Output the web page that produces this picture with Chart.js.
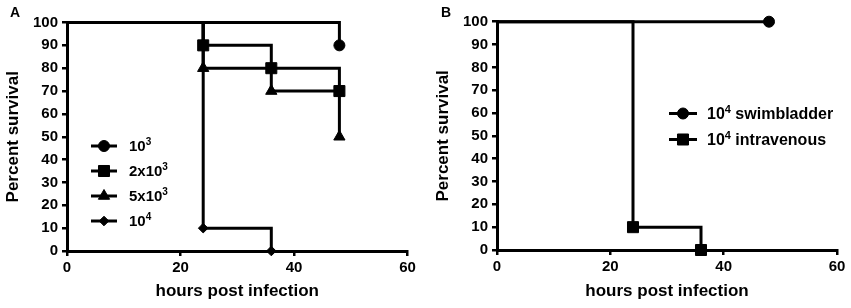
<!DOCTYPE html>
<html>
<head>
<meta charset="utf-8">
<script src="https://cdn.jsdelivr.net/npm/chart.js@4.4.0/dist/chart.umd.min.js"></script>
<style>
    html, body { margin: 0; padding: 0; background: #fff; }
    body { width: 851px; height: 308px; position: relative; overflow: hidden; }
    .panel { position: absolute; top: 0; height: 308px; }
    #panelA { left: 0; width: 425px; }
    #panelB { left: 430px; width: 421px; }
</style>
</head>
<body>
<div class="panel" id="panelA"><canvas id="chartA"></canvas></div>
<div class="panel" id="panelB"><canvas id="chartB"></canvas></div>
<script>
// survival curves: hours of each event and the survival after it
const timesA_1e3 = [0, 48];
const survA_1e3 = [100, 90];
const timesA_2e3 = [0, 24, 36, 48];
const survA_2e3 = [100, 90, 80, 70];
const timesA_5e3 = [0, 24, 36, 48];
const survA_5e3 = [100, 80, 70, 50];
const timesA_1e4 = [0, 24, 36];
const survA_1e4 = [100, 10, 0];

const timesB_swim = [0, 48];
const survB_swim = [100, 100];
const timesB_iv = [0, 24, 36];
const survB_iv = [100, 10, 0];

// legend text: [base, superscript, rest]
const labelsA = [["10", "3", ""], ["2x10", "3", ""], ["5x10", "3", ""], ["10", "4", ""]];
const labelsB = [["10", "4", " swimbladder"], ["10", "4", " intravenous"]];

// axes
const xMin = 0, xMax = 60, xStep = 20;
const yMin = 0, yMax = 100, yStep = 10;
const xTitle = "hours post infection";
const yTitle = "Percent survival";

const FONT = '"Liberation Sans", Arial, sans-serif';
Chart.defaults.font.family = FONT;

function toPoints(t, s) {
    return t.map((x, i) => ({x: x, y: s[i]}));
}

function makeDataset(label, t, s, style, r) {
    return {
        label: label,
        data: toPoints(t, s),
        stepped: true,
        fill: false,
        clip: false,
        borderColor: '#000',
        backgroundColor: '#000',
        borderWidth: 3,
        pointStyle: style,
        pointRadius: ctx => ctx.dataIndex === 0 ? 0 : r, // no marker at t=0
        pointBackgroundColor: '#000',
        pointBorderColor: '#000',
        pointBorderWidth: 1,
        markerRadius: r
    };
}

// draws the legend with superscripts and the panel letter
const panelLegend = {
    id: 'panelLegend',
    afterDraw(chart, args, opts) {
        const ctx = chart.ctx;
        ctx.save();
        ctx.fillStyle = '#000';
        ctx.strokeStyle = '#000';
        ctx.textAlign = 'left';
        ctx.textBaseline = 'alphabetic';
        ctx.font = 'bold 14px ' + FONT;
        ctx.fillText(opts.letter, opts.letterX, opts.letterY);

        chart.data.datasets.forEach((ds, i) => {
            const y = opts.y + i * opts.gap;
            ctx.lineWidth = 3;
            ctx.beginPath();
            ctx.moveTo(opts.x, y);
            ctx.lineTo(opts.x + opts.len, y);
            ctx.stroke();
            ctx.lineWidth = 1;
            Chart.helpers.drawPoint(ctx, {
                pointStyle: ds.pointStyle, radius: ds.markerRadius, borderWidth: 1, rotation: 0
            }, opts.x + opts.len / 2, y);

            const lab = opts.labels[i];
            const base = y + opts.size * 0.36;
            let tx = opts.textX;
            ctx.font = 'bold ' + opts.size + 'px ' + FONT;
            ctx.fillText(lab[0], tx, base);
            tx += ctx.measureText(lab[0]).width;
            ctx.font = 'bold ' + opts.supSize + 'px ' + FONT;
            ctx.fillText(lab[1], tx, base - opts.size * 0.42);
            tx += ctx.measureText(lab[1]).width;
            if (lab[2]) {
                ctx.font = 'bold ' + opts.size + 'px ' + FONT;
                ctx.fillText(lab[2], tx, base);
            }
        });
        ctx.restore();
    }
};

function makeOptions(pad, xAxisH, yAxisW, legendOpts) {
    return {
        responsive: true,
        maintainAspectRatio: false,
        animation: false,
        events: [],
        layout: {padding: pad},
        plugins: {
            legend: {display: false},
            tooltip: {enabled: false},
            panelLegend: legendOpts
        },
        scales: {
            x: {
                type: 'linear',
                min: xMin,
                max: xMax,
                afterFit: s => { s.height = xAxisH; },
                ticks: {
                    stepSize: xStep, color: '#000', padding: 3, maxRotation: 0,
                    font: {size: 15, weight: 'bold'}
                },
                grid: {display: true, drawOnChartArea: false, drawTicks: true, tickLength: 5, color: '#000', lineWidth: 2.5},
                border: {display: true, color: '#000', width: 3},
                title: {
                    display: true, text: xTitle, color: '#000',
                    font: {size: 17, weight: 'bold'}, padding: {top: 0, bottom: 6}
                }
            },
            y: {
                type: 'linear',
                min: yMin,
                max: yMax,
                afterFit: s => { s.width = yAxisW; },
                ticks: {
                    stepSize: yStep, color: '#000', padding: 4, autoSkip: false,
                    font: {size: 15, weight: 'bold'}
                },
                grid: {display: true, drawOnChartArea: false, drawTicks: true, tickLength: 5, color: '#000', lineWidth: 2.5},
                border: {display: true, color: '#000', width: 3},
                title: {
                    display: true, text: yTitle, color: '#000',
                    font: {size: 17, weight: 'bold'}, padding: {top: 3, bottom: 0}
                }
            }
        }
    };
}

new Chart(document.getElementById('chartA'), {
    type: 'line',
    data: {
        datasets: [
            makeDataset('10^3', timesA_1e3, survA_1e3, 'circle', 5.5),
            makeDataset('2x10^3', timesA_2e3, survA_2e3, 'rect', 7.8),
            makeDataset('5x10^3', timesA_5e3, survA_5e3, 'triangle', 6.5),
            makeDataset('10^4', timesA_1e4, survA_1e4, 'rectRot', 4.8)
        ]
    },
    options: makeOptions({left: 0, right: 17.5, top: 22.5, bottom: 0}, 57, 67, {
        letter: 'A', letterX: 10, letterY: 17,
        x: 91, len: 26, textX: 129, y: 146, gap: 25,
        size: 15, supSize: 10, labels: labelsA
    }),
    plugins: [panelLegend]
});

new Chart(document.getElementById('chartB'), {
    type: 'line',
    data: {
        datasets: [
            makeDataset('10^4 swimbladder', timesB_swim, survB_swim, 'circle', 5.5),
            makeDataset('10^4 intravenous', timesB_iv, survB_iv, 'rect', 7.8)
        ]
    },
    options: makeOptions({left: 0, right: 14, top: 21.7, bottom: 0}, 58, 67, {
        letter: 'B', letterX: 11, letterY: 17,
        x: 239, len: 28, textX: 277, y: 113.5, gap: 26,
        size: 16, supSize: 11, labels: labelsB
    }),
    plugins: [panelLegend]
});
</script>
</body>
</html>
